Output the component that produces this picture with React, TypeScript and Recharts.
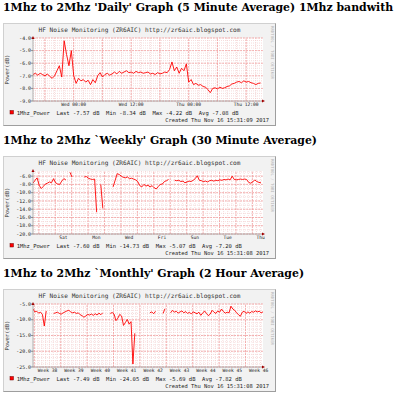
import React from 'react';
import { LineChart, Line, XAxis, YAxis, CartesianGrid, ReferenceLine, ReferenceDot } from 'recharts';

// 5 minute graph, one sample every half hour, 48 hours
const dailyPower = [
  -6.9, -6.8, -6.95, -6.8, -6.9, -7.0, -6.85, -7.05, -7.2, -7.0,
  -6.6, -6.2, -7.1, -4.22, -5.3, -6.2, -5.0, -7.0, -7.6, -7.2,
  -7.4, -7.3, -7.5, -7.35, -7.7, -7.3, -7.55, -7.0, -6.75, -7.1,
  -6.9, -6.8, -6.95, -6.85, -6.7, -6.85, -6.65, -6.8, -6.7, -6.6,
  -6.75, -6.7, -6.8, -6.65, -6.75, -6.7, -6.8, -6.75, -6.7, -6.85,
  -6.8, -6.9, -6.75, -6.85, -6.8, -6.7, -6.75, -6.5, -5.9, -6.6,
  -6.3, -6.8, -6.4, -6.6, -6.05, -7.5, -7.3, -7.7, -7.6, -7.75,
  -7.7, -7.85, -7.9, -8.1, -8.34, -8.0, -7.95, -8.05, -7.9, -8.0,
  -7.95, -7.85, -7.8, -7.65, -7.6, -7.5, -7.45, -7.55, -7.4, -7.5,
  -7.45, -7.55, -7.6, -7.7, -7.6, -7.57,
];
const dailyStep = 0.5; // hours
const dailyTicks = [8.483, 20.483, 32.483, 44.483];
const dailyTickLabels = ['Wed 00:00', 'Wed 12:00', 'Thu 00:00', 'Thu 12:00'];
const dailyYTicks = [-9, -8, -7, -6, -5, -4];

// 30 minute graph, one sample every 3 hours, 14 days
const weeklyPower = [
  -7.7, -7.0, -6.4, -8.2, -9.0, -8.5, -7.9, -7.7, -7.4, -7.6,
  -6.6, -7.6, -7.9, -8.0, -7.2, -6.6, -6.9, null, -5.07, -6.2,
  null, null, null, null, null, -6.2, -6.1, -6.5, -6.7, -6.8,
  -6.7, -14.73, null, -8.0, -13.8, null, null, null, null, -8.6,
  -7.0, -5.4, -5.6, -6.0, -6.3, -6.4, -6.2, -6.6, -6.5, -6.7,
  -6.9, -7.3, -8.3, -8.6, -8.0, -8.4, -8.2, -8.6, -8.3, -8.8,
  -9.1, -8.5, -8.0, -7.9, -7.3, -7.1, -6.8, null, null, -7.0,
  -7.1, -7.0, -7.3, -7.2, -7.6, -7.4, -7.2, -7.3, -7.0, -6.6,
  -5.9, -7.0, -7.1, -7.3, -7.2, -7.4, -7.1, -7.0, -7.2, -7.0,
  -7.1, -6.9, -7.0, -6.8, -6.9, -6.7, -6.9, -6.0, -6.8, -6.9,
  -6.8, -6.7, -6.8, -6.7, -6.8, -7.5, -7.7, -7.4, -6.9, -7.3,
  -7.5, -7.6,
];
const weeklyStep = 0.125; // days
const weeklyTicks = [1.854, 3.854, 5.854, 7.854, 9.854, 11.854, 13.854];
const weeklyTickLabels = ['Sat', 'Mon', 'Wed', 'Fri', 'Sun', 'Tue', 'Thu'];
const weeklyYTicks = [-20, -18, -16, -14, -12, -10, -8, -6];

// 2 hour graph, one sample every 12 hours, 61 days
const monthlyPower = [
  -6.6, -7.5, -7.3, -7.9, -7.6, -8.3, -12.0, -7.2, null, null,
  null, -8.0, -7.8, -7.6, -8.0, -8.2, -7.8, -7.5, -7.2, -7.0,
  -7.5, -7.8, -7.6, -8.0, -7.8, -8.4, -8.7, -9.2, -8.8, -8.3,
  -8.5, -8.2, -8.6, -8.1, -8.5, -7.9, -8.4, -7.8, null, null,
  null, -8.0, -7.7, -8.2, -10.3, -9.5, -8.3, -8.8, -11.8, -10.9,
  -9.9, -11.4, -10.6, -24.05, -14.3, null, null, null, null, null,
  null, null, -7.8, -7.5, -8.1, -7.3, null, null, null, -8.0,
  -6.5, null, null, -7.8, -7.0, -7.6, -7.3, -7.9, -7.5, -7.2,
  -7.8, -7.4, -8.0, -7.6, -8.2, -7.5, -7.8, -8.1, -7.6, -8.6,
  -7.9, -7.2, -8.0, -8.7, -8.2, -7.0, -7.6, -8.0, -7.2, -7.6,
  -6.6, -7.4, -7.9, -7.6, -7.8, -5.69, -6.6, -7.0, -7.8, -8.4,
  -8.9, -7.6, -7.3, -8.0, -7.5, -7.9, -7.4, -7.6, -7.2, -7.5,
  -7.3, -7.8, -7.49,
];
const monthlyStep = 0.5; // days
const monthlyTicks = [3.854, 10.854, 17.854, 24.854, 31.854, 38.854, 45.854, 52.854, 59.854];
const monthlyTickLabels = ['Week 38', 'Week 39', 'Week 40', 'Week 41', 'Week 42', 'Week 43', 'Week 44', 'Week 45', 'Week 46'];
const monthlyYTicks = [-25, -20, -15, -10, -5];

const MONO = 'DejaVu Sans Mono';

const range = (from: number, to: number, step: number) => {
  const out: number[] = [];
  for (let v = from; v <= to + 1e-9; v += step) out.push(+v.toFixed(4));
  return out;
};

const upArrow = (p: any) => (
  <polygon points={`${p.cx - 1.5},${p.cy + 1} ${p.cx + 1.5},${p.cy + 1} ${p.cx},${p.cy - 2}`} fill="#a00000" />
);
const rightArrow = (p: any) => (
  <polygon points={`${p.cx - 1},${p.cy - 1.5} ${p.cx - 1},${p.cy + 1.5} ${p.cx + 2},${p.cy}`} fill="#a00000" />
);

interface GraphProps {
  top: number;
  values: (number | null)[];
  step: number;
  xMax: number;
  xTicks: number[];
  xLabels: string[];
  xMajor: number[];
  xMinor: number[];
  yDomain: [number, number];
  yTicks: number[];
  yMinor: number[];
  legend: string;
  created: string;
}

const RrdGraph: React.FC<GraphProps> = (g) => {
  const data = g.values.map((v, i) => ({ t: i * g.step, v }));
  return (
    <div
      style={{
        position: 'absolute', left: 3, top: g.top, width: 273, height: 103, boxSizing: 'border-box',
        background: '#f2f2f2', borderTop: '1px solid #d0d0d0', borderLeft: '1px solid #d0d0d0',
        borderRight: '1px solid #9e9e9e', borderBottom: '1px solid #9e9e9e',
      }}
    >
      <div style={{ position: 'absolute', left: -1, top: -1 }}>
        <LineChart width={273} height={103} data={data} margin={{ top: 15, right: 13, bottom: 0, left: 0 }}>
          <CartesianGrid fill="#ffffff" horizontal={false} vertical={false} />
          {g.yMinor.map((v) => (
            <ReferenceLine key={'ym' + v} y={v} stroke="#f0c4c4" strokeWidth={0.6} strokeDasharray="1 1" />
          ))}
          {g.xMinor.map((v) => (
            <ReferenceLine key={'xm' + v} x={v} stroke="#f0c4c4" strokeWidth={0.6} strokeDasharray="1 1" />
          ))}
          {g.yTicks.map((v) => (
            <ReferenceLine key={'yM' + v} y={v} stroke="#f09a9a" strokeWidth={0.7} strokeDasharray="2 1" />
          ))}
          {g.xMajor.map((v) => (
            <ReferenceLine key={'xM' + v} x={v} stroke="#f09a9a" strokeWidth={0.7} strokeDasharray="2 1" />
          ))}
          <XAxis
            type="number"
            dataKey="t"
            domain={[0, g.xMax]}
            allowDataOverflow
            ticks={g.xTicks}
            interval={0}
            tickFormatter={(v: number) => g.xLabels[g.xTicks.indexOf(v)]}
            height={25}
            tickLine={false}
            tickSize={2}
            tickMargin={0}
            axisLine={{ stroke: '#a0a0a0', strokeWidth: 0.8 }}
            tick={{ fontSize: 4.6, fontFamily: MONO, fill: '#222' }}
          />
          <YAxis
            type="number"
            domain={g.yDomain}
            allowDataOverflow
            ticks={g.yTicks}
            interval={0}
            tickFormatter={(v: number) => v.toFixed(1)}
            width={30}
            tickSize={2}
            tickMargin={0}
            tickLine={{ stroke: '#777', strokeWidth: 0.8 }}
            axisLine={{ stroke: '#a0a0a0', strokeWidth: 0.8 }}
            tick={{ fontSize: 4.9, fontFamily: MONO, fill: '#222' }}
          />
          <Line
            type="linear"
            dataKey="v"
            stroke="#ff0000"
            strokeWidth={0.9}
            dot={false}
            connectNulls={false}
            isAnimationActive={false}
          />
          <ReferenceDot x={0} y={g.yDomain[1]} ifOverflow="visible" shape={upArrow} />
          <ReferenceDot x={g.xMax} y={g.yDomain[0]} ifOverflow="visible" shape={rightArrow} />
        </LineChart>
      </div>
      <svg
        width={273}
        height={103}
        style={{ position: 'absolute', left: -1, top: -1, pointerEvents: 'none', overflow: 'visible' }}
      >
        <text x={136.5} y={8.6} textAnchor="middle" fontFamily={MONO} fontSize={6.1} fill="#333">
          HF Noise Monitoring (ZR6AIC) http://zr6aic.blogspot.com
        </text>
        <text transform="translate(268,29.5) rotate(90)" textAnchor="middle" fontFamily={MONO} fontSize={4} fill="#b5b5b5">
          RRDTOOL / TOBI OETIKER
        </text>
        <text transform="translate(6.3,46.5) rotate(-90)" textAnchor="middle" fontFamily={MONO} fontSize={5.5} fill="#333">
          Power(dB)
        </text>
        <rect x={7} y={87.5} width={3.5} height={3.5} fill="#ff0000" stroke="#700000" strokeWidth={0.5} />
        <text x={13.7} y={91.5} fontFamily={MONO} fontSize={5.5} fill="#222" xmlSpace="preserve" style={{ whiteSpace: 'pre' }}>
          {g.legend}
        </text>
        <text x={266} y={99} textAnchor="end" fontFamily={MONO} fontSize={5.4} fill="#222">
          {g.created}
        </text>
      </svg>
    </div>
  );
};

const headingStyle = (top: number): React.CSSProperties => ({
  position: 'absolute', left: 3, top, fontFamily: '"DejaVu Serif", serif', fontWeight: 'bold',
  fontSize: 10.9, lineHeight: '10.9px', whiteSpace: 'nowrap', color: '#000',
});

export default function App() {
  return (
    <div style={{ position: 'absolute', left: 0, top: 0, width: 400, height: 393, overflow: 'hidden', background: '#fff' }}>
      <div style={headingStyle(3)}>1Mhz to 2Mhz 'Daily' Graph (5 Minute Average) 1Mhz bandwith</div>
      <RrdGraph
        top={23}
        values={dailyPower}
        step={dailyStep}
        xMax={48}
        xTicks={dailyTicks}
        xLabels={dailyTickLabels}
        xMajor={range(2.483, 48, 6)}
        xMinor={range(0.483, 48, 2)}
        yDomain={[-9, -4]}
        yTicks={dailyYTicks}
        yMinor={range(-9, -4, 0.2)}
        legend="1Mhz_Power  Last -7.57 dB  Min -8.34 dB  Max -4.22 dB  Avg -7.08 dB"
        created="Created Thu Nov 16 15:31:09 2017"
      />
      <div style={headingStyle(136)}>1Mhz to 2Mhz `Weekly' Graph (30 Minute Average)</div>
      <RrdGraph
        top={156}
        values={weeklyPower}
        step={weeklyStep}
        xMax={14}
        xTicks={weeklyTicks}
        xLabels={weeklyTickLabels}
        xMajor={range(0.354, 14, 1)}
        xMinor={range(0.104, 14, 0.25)}
        yDomain={[-20, -4.75]}
        yTicks={weeklyYTicks}
        yMinor={range(-20, -5, 1)}
        legend="1Mhz_Power  Last -7.60 dB  Min -14.73 dB  Max -5.07 dB  Avg -7.20 dB"
        created="Created Thu Nov 16 15:31:08 2017"
      />
      <div style={headingStyle(269)}>1Mhz to 2Mhz `Monthly' Graph (2 Hour Average)</div>
      <RrdGraph
        top={289}
        values={monthlyPower}
        step={monthlyStep}
        xMax={61}
        xTicks={monthlyTicks}
        xLabels={monthlyTickLabels}
        xMajor={range(0.354, 61, 7)}
        xMinor={range(0.354, 61, 1)}
        yDomain={[-25, -5]}
        yTicks={monthlyYTicks}
        yMinor={range(-25, -5, 1)}
        legend="1Mhz_Power  Last -7.49 dB  Min -24.05 dB  Max -5.69 dB  Avg -7.82 dB"
        created="Created Thu Nov 16 15:31:08 2017"
      />
    </div>
  );
}
